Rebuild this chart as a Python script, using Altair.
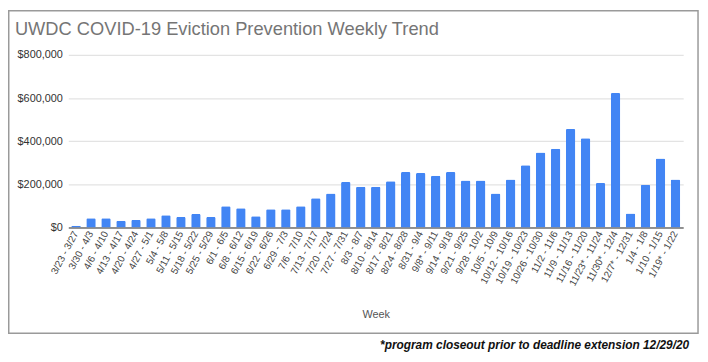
import altair as alt
import pandas as pd

weeks = [
    "3/23 - 3/27", "3/30 - 4/3", "4/6 - 4/10", "4/13 - 4/17", "4/20 - 4/24",
    "4/27 - 5/1", "5/4 - 5/8", "5/11 - 5/15", "5/18 - 5/22", "5/25 - 5/29",
    "6/1 - 6/5", "6/8 - 6/12", "6/15 - 6/19", "6/22 - 6/26", "6/29 - 7/3",
    "7/6 - 7/10", "7/13 - 7/17", "7/20 - 7/24", "7/27 - 7/31", "8/3 - 8/7",
    "8/10 - 8/14", "8/17 - 8/21", "8/24 - 8/28", "8/31 - 9/4", "9/8* - 9/11",
    "9/14 - 9/18", "9/21 - 9/25", "9/28 - 10/2", "10/5 - 10/9", "10/12 - 10/16",
    "10/19 - 10/23", "10/26 - 10/30", "11/2 - 11/6", "11/9 - 11/13", "11/16 - 11/20",
    "11/23* - 11/24", "11/30* - 12/4", "12/7* - 12/31", "1/4 - 1/8", "1/10 - 1/15",
    "1/19* - 1/22",
]
amounts = [
    8000, 43000, 43000, 31000, 35000,
    43000, 57000, 48000, 62000, 48000,
    98000, 89000, 52000, 85000, 85000,
    98000, 135000, 157000, 211000, 189000,
    189000, 214000, 257000, 252000, 240000,
    257000, 218000, 218000, 157000, 223000,
    289000, 348000, 365000, 457000, 414000,
    206000, 623000, 65000, 198000, 320000,
    223000,
]
y_ticks = [0, 200000, 400000, 600000, 800000]

title_text = "UWDC COVID-19 Eviction Prevention Weekly Trend"
footnote_text = "*program closeout prior to deadline extension 12/29/20"

df = pd.DataFrame({"Week": weeks, "Amount": amounts})
one = pd.DataFrame({"t": [title_text], "f": [footnote_text]})

W = 622
H = 174.5

bars = alt.Chart(df).mark_bar(
    color="#4285f4", cornerRadiusTopLeft=1.5, cornerRadiusTopRight=1.5
).encode(
    x=alt.X(
        "Week:N", sort=weeks, title="Week",
        scale=alt.Scale(paddingInner=0.37, paddingOuter=0.2),
        axis=alt.Axis(
            labelAngle=-62, labelAlign="right", labelBaseline="middle",
            labelFontSize=10, labelColor="#444444", labelFont="Liberation Sans",
            labelPadding=4, ticks=False, domainColor="#333333", domainWidth=1,
            titleFont="Liberation Sans", titleFontSize=11, titleColor="#555555",
            titleFontWeight="normal", titleY=88, titleBaseline="middle",
            labelOverlap=False,
        ),
    ),
    y=alt.Y(
        "Amount:Q", title=None,
        scale=alt.Scale(domain=[0, 800000], nice=False),
        axis=alt.Axis(
            values=y_ticks, format="$,.0f", ticks=False, domain=False,
            labelFont="Liberation Sans", labelFontSize=11, labelColor="#333333",
            labelPadding=6, gridColor="#e3e3e3", gridWidth=1.2,
        ),
    ),
)

title = alt.Chart(one).mark_text(
    align="left", baseline="middle", font="Liberation Sans", fontSize=18.5,
    color="#757575",
).encode(x=alt.value(-54), y=alt.value(-26.5), text="t:N")

footnote = alt.Chart(one).mark_text(
    align="right", baseline="middle", font="Liberation Sans", fontSize=12,
    fontStyle="italic", fontWeight="bold", color="#111111",
).encode(x=alt.value(628), y=alt.value(293), text="f:N")

border = alt.Chart(one).mark_rect(
    fill=None, stroke="#9a9a9a", strokeWidth=1.5
).encode(
    x=alt.value(-60.25), x2=alt.value(637), y=alt.value(-44.75), y2=alt.value(281.5)
)

chart = alt.layer(border, bars, title, footnote).properties(
    width=W, height=H,
    autosize=alt.AutoSizeParams(type="none"),
    padding={"left": 61, "top": 45.5, "right": 17, "bottom": 126},
).configure_view(stroke=None)

chart.save("out.html", embed_options={"renderer": "svg", "actions": False})
